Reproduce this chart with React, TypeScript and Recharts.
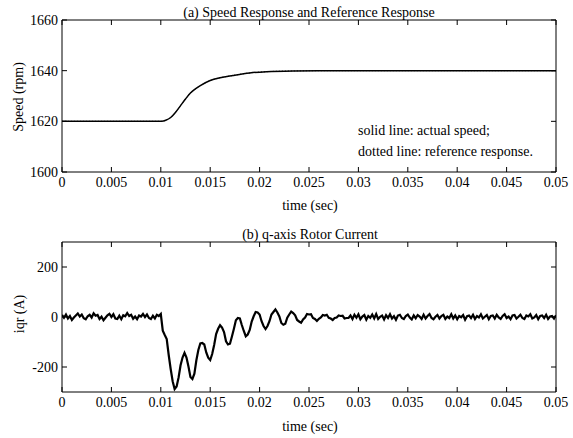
import React from 'react';
import { LineChart, Line, XAxis, YAxis } from 'recharts';

// time axis (sec)
const TIME_TICKS = [0, 0.005, 0.01, 0.015, 0.02, 0.025, 0.03, 0.035, 0.04, 0.045, 0.05];
const TIME_TICK_LABELS = ['0', '0.005', '0.01', '0.015', '0.02', '0.025', '0.03', '0.035', '0.04', '0.045', '0.05'];

// (a) speed response
const SPEED_TIME = [0, 0.0101, 0.0105, 0.011, 0.0115, 0.012, 0.0125, 0.013, 0.0135, 0.014, 0.015, 0.016, 0.0173, 0.019, 0.0207, 0.0235, 0.027, 0.05];
const SPEED_RPM = [1620, 1620, 1620.4, 1621.5, 1623.6, 1626.2, 1628.8, 1631.2, 1632.8, 1634.1, 1636.1, 1637.2, 1638.1, 1639.1, 1639.6, 1639.9, 1640, 1640];
const SPEED_TICKS = [1600, 1620, 1640, 1660];

// (b) q-axis rotor current, sampled every 0.2 ms
const IQR_STEP = 0.0002;
const IQR_AMPS = [
  8, -3, 10, -6, 4, -12, -2, 6, 14, 2,
  10, -5, -9, 3, 9, -2, 15, 5, 8, -8,
  1, -13, -3, 7, 13, 0, 11, -6, -8, 5,
  -9, 7, 3, 16, 4, 9, -7, 2, -9, 6,
  2, 12, 0, 10, -4, -8, 5, -6, 9, 4,
  12,
  -55, -72, -88, -152, -208, -257, -288, -278, -242, -193,
  -162, -143, -162, -198, -240, -248, -227, -173, -132, -106,
  -104, -110, -142, -163, -172, -148, -112, -68, -47, -33,
  -42, -60, -97, -110, -107, -78, -47, -13, -4, -6,
  -32, -56, -77, -70, -52, -18, 3, 20, 18, 10,
  -17, -36, -48, -36, -17, 10, 20, 30, 18, 2,
  -24, -31, -27, -3, 10, 22, 16, 7, -12, -18,
  -23, -10, -2, 12, 10, 11, -4, -8, -16, -7,
  -2, 8, 6, 9, -3, -6, -12, -4, -2, 6,
  4, 5, -6, -4, -4,
  6, -8, 9, -3, 11, -9, 2, 8, -11, 4,
  -3, 10, -6, 12, -8, 1, 6, -10, 7, -4,
  11, -6, 3, -11, 6, 9, -4, -8, 4, 10,
  -2, -10, 6, -5, 8, 2, -8, 9, -6, 4,
  12, -4, -9, 1, 8, -6, 4, 9, -8, 2,
  -4, 11, -6, 6, -9, 4, -1, 8, -11, 3,
  6, -4, 9, -8, 4, -2, 11, -6, 1, 8,
  -9, 4, 6, -6, 9, -2, -8, 4, 11, -4,
  2, -9, 6, 8, -6, 1, 9, -4, -8, 6,
  2, 11, -6, -2, 8, -9, 4, 6, -4, 9,
  -8, 2, 4, -6, 7,
];
const IQR_TICKS = [-200, 0, 200];

const speedData = SPEED_TIME.map((t, i) => ({ t, actual: SPEED_RPM[i], reference: SPEED_RPM[i] }));
const iqrData = IQR_AMPS.map((v, i) => ({ t: +(i * IQR_STEP).toFixed(4), v }));

const FONT = '"Liberation Serif", "DejaVu Serif", serif';
const tickStyle = { fontSize: 14, fill: '#000', fontFamily: FONT };
const black = { stroke: '#000', strokeWidth: 1 };
const blank = () => '';

const TextAt: React.FC<{ x: number; y: number; center?: boolean; rotate?: boolean; children: React.ReactNode }> = ({ x, y, center, rotate, children }) => (
  <div
    style={{
      position: 'absolute',
      left: x,
      top: y,
      transform: rotate ? 'translate(-50%, -50%) rotate(-90deg)' : center ? 'translate(-50%, -50%)' : 'translateY(-50%)',
      fontFamily: FONT,
      fontSize: 14,
      lineHeight: '16px',
      whiteSpace: 'nowrap',
      color: '#000',
    }}
  >
    {children}
  </div>
);

// bottom/left axes carry labels, top/right axes only close the box with inward ticks
function frameAxes(yDomain: number[], yTicks: number[]) {
  return [
    <XAxis
      key="xb"
      xAxisId="b"
      dataKey="t"
      type="number"
      domain={[0, 0.05]}
      ticks={TIME_TICKS}
      interval={0}
      tickFormatter={(_v: number, i: number) => TIME_TICK_LABELS[i]}
      tickSize={-5}
      tickMargin={10}
      height={30}
      axisLine={black}
      tickLine={black}
      tick={tickStyle}
      allowDataOverflow
    />,
    <XAxis
      key="xt"
      xAxisId="t"
      orientation="top"
      dataKey="t"
      type="number"
      domain={[0, 0.05]}
      ticks={TIME_TICKS}
      interval={0}
      tickFormatter={blank}
      tickSize={-5}
      height={1}
      axisLine={black}
      tickLine={black}
      tick={tickStyle}
      allowDataOverflow
    />,
    <YAxis
      key="yl"
      yAxisId="l"
      type="number"
      domain={yDomain}
      ticks={yTicks}
      interval={0}
      tickSize={-5}
      tickMargin={9}
      width={40}
      axisLine={black}
      tickLine={black}
      tick={tickStyle}
      allowDataOverflow
    />,
    <YAxis
      key="yr"
      yAxisId="r"
      orientation="right"
      type="number"
      domain={yDomain}
      ticks={yTicks}
      interval={0}
      tickSize={-5}
      width={1}
      axisLine={black}
      tickLine={black}
      tick={tickStyle}
      tickFormatter={blank}
      allowDataOverflow
    />,
  ];
}

export default function App() {
  return (
    <div style={{ position: 'absolute', left: 0, top: 0, width: 573, height: 438, background: '#fff' }}>
      <LineChart width={573} height={219} data={speedData} margin={{ top: 19, right: 16, bottom: 17, left: 22 }}>
        {frameAxes([1600, 1660], SPEED_TICKS)}
        <Line xAxisId="t" yAxisId="r" dataKey="reference" type="monotone" stroke="#000" strokeWidth={1} strokeDasharray="1 2" dot={false} isAnimationActive={false} />
        <Line xAxisId="b" yAxisId="l" dataKey="actual" type="monotone" stroke="#000" strokeWidth={1.5} dot={false} isAnimationActive={false} />
      </LineChart>
      <LineChart width={573} height={219} data={iqrData} margin={{ top: 22, right: 16, bottom: 16, left: 22 }} style={{ position: 'absolute', left: 0, top: 219 }}>
        {frameAxes([-300, 300], IQR_TICKS)}
        <Line xAxisId="t" yAxisId="r" dataKey="v" type="linear" stroke="none" dot={false} isAnimationActive={false} />
        <Line xAxisId="b" yAxisId="l" dataKey="v" type="linear" stroke="#000" strokeWidth={2.2} dot={false} isAnimationActive={false} />
      </LineChart>

      <TextAt x={309} y={13} center>(a) Speed Response and Reference Response</TextAt>
      <TextAt x={358} y={131}>solid line: actual speed;</TextAt>
      <TextAt x={358} y={152}>dotted line: reference response.</TextAt>
      <TextAt x={310} y={206} center>time (sec)</TextAt>
      <TextAt x={19} y={97} rotate>Speed (rpm)</TextAt>

      <TextAt x={310} y={235} center>(b) q-axis Rotor Current</TextAt>
      <TextAt x={310} y={427} center>time (sec)</TextAt>
      <TextAt x={20} y={314} rotate>iqr (A)</TextAt>
    </div>
  );
}
